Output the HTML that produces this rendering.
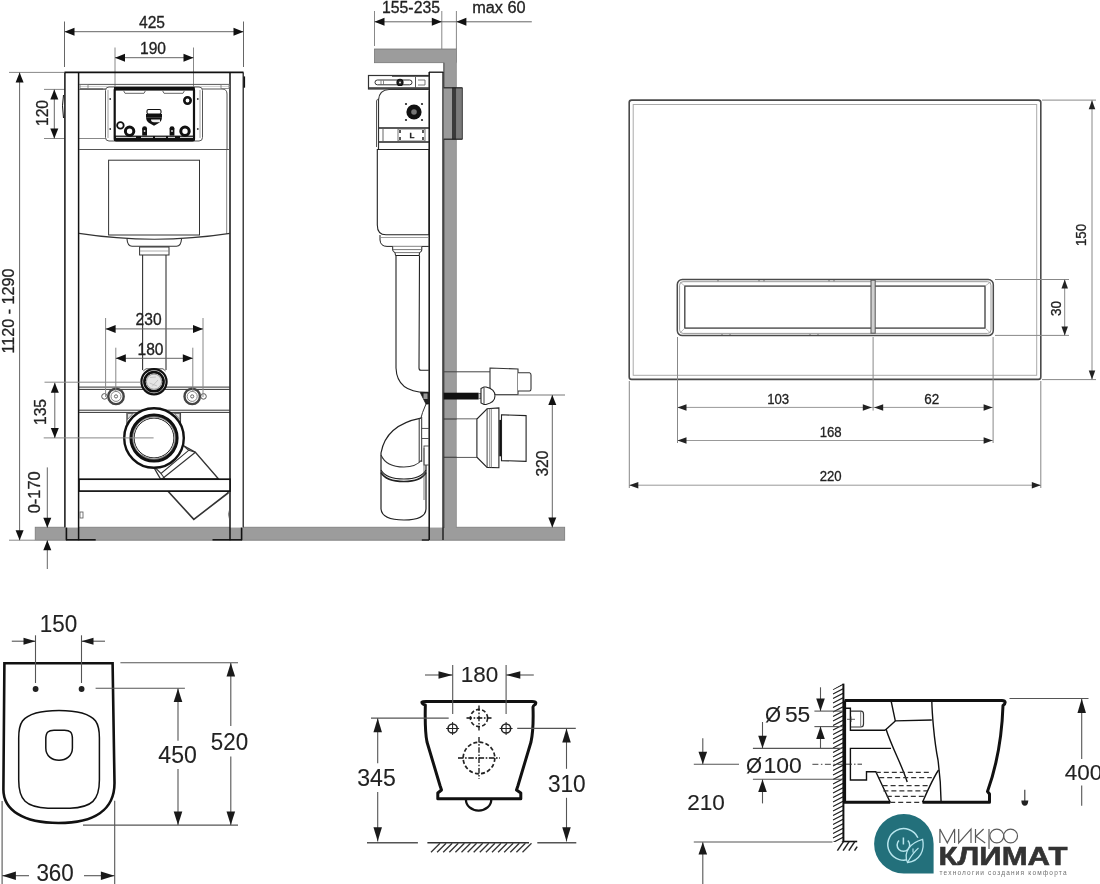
<!DOCTYPE html>
<html><head><meta charset="utf-8"><style>
html,body{margin:0;padding:0;background:#fff;width:1100px;height:884px;overflow:hidden}
svg{display:block;will-change:transform}
</style></head><body>
<svg width="1100" height="884" viewBox="0 0 1100 884" stroke-linecap="butt">
<rect x="0" y="0" width="1100" height="884" fill="#fff"/>
<rect x="35.3" y="527.3" width="529.3" height="12.9" rx="0" fill="#9c9c9c" stroke="#858585" stroke-width="1" />
<line x1="64.5" y1="21.5" x2="64.5" y2="67" stroke="#666" stroke-width="1" />
<line x1="243.5" y1="21.5" x2="243.5" y2="67" stroke="#666" stroke-width="1" />
<line x1="64.5" y1="31.7" x2="243.5" y2="31.7" stroke="#666" stroke-width="1" />
<polygon points="64.5,31.7 74.5,27.7 74.5,35.7" fill="#111" stroke="none" stroke-width="1" />
<polygon points="243.5,31.7 233.5,27.7 233.5,35.7" fill="#111" stroke="none" stroke-width="1" />
<text x="152" y="27.6" font-family='"Liberation Sans", sans-serif' font-size="16" text-anchor="middle" fill="#222" font-weight="normal" stroke="#222" stroke-width="0.3" textLength="26" lengthAdjust="spacingAndGlyphs" >425</text>
<line x1="115" y1="47.5" x2="115" y2="88" stroke="#888" stroke-width="1" />
<line x1="193.5" y1="47.5" x2="193.5" y2="88" stroke="#888" stroke-width="1" />
<line x1="115" y1="57.7" x2="193.5" y2="57.7" stroke="#666" stroke-width="1" />
<polygon points="115,57.7 125,53.7 125,61.7" fill="#111" stroke="none" stroke-width="1" />
<polygon points="193.5,57.7 183.5,53.7 183.5,61.7" fill="#111" stroke="none" stroke-width="1" />
<text x="153" y="54.3" font-family='"Liberation Sans", sans-serif' font-size="16" text-anchor="middle" fill="#222" font-weight="normal" stroke="#222" stroke-width="0.3" textLength="26" lengthAdjust="spacingAndGlyphs" >190</text>
<line x1="9" y1="72.4" x2="64.5" y2="72.4" stroke="#888" stroke-width="1" />
<line x1="9" y1="540.2" x2="35" y2="540.2" stroke="#888" stroke-width="1" />
<line x1="19.6" y1="72.4" x2="19.6" y2="540.2" stroke="#666" stroke-width="1" />
<polygon points="19.6,72.4 15.6,82.4 23.6,82.4" fill="#111" stroke="none" stroke-width="1" />
<polygon points="19.6,540.2 15.6,530.2 23.6,530.2" fill="#111" stroke="none" stroke-width="1" />
<text x="13.5" y="311" font-family='"Liberation Sans", sans-serif' font-size="16" text-anchor="middle" fill="#222" font-weight="normal" stroke="#222" stroke-width="0.3" transform="rotate(-90 13.5 311)" textLength="85" lengthAdjust="spacingAndGlyphs" >1120 - 1290</text>
<line x1="44" y1="89.4" x2="106" y2="89.4" stroke="#888" stroke-width="1" />
<line x1="44" y1="138.5" x2="106" y2="138.5" stroke="#888" stroke-width="1" />
<line x1="54.3" y1="89.4" x2="54.3" y2="138.5" stroke="#666" stroke-width="1" />
<polygon points="54.3,89.4 50.3,99.4 58.3,99.4" fill="#111" stroke="none" stroke-width="1" />
<polygon points="54.3,138.5 50.3,128.5 58.3,128.5" fill="#111" stroke="none" stroke-width="1" />
<text x="47.6" y="113" font-family='"Liberation Sans", sans-serif' font-size="16" text-anchor="middle" fill="#222" font-weight="normal" stroke="#222" stroke-width="0.3" transform="rotate(-90 47.6 113)" textLength="26" lengthAdjust="spacingAndGlyphs" >120</text>
<rect x="64.5" y="72.4" width="14.5" height="455.2" rx="0" fill="#fff" stroke="none" stroke-width="0" />
<rect x="230" y="72.4" width="13.5" height="455.2" rx="0" fill="#fff" stroke="none" stroke-width="0" />
<line x1="64.9" y1="72.4" x2="64.9" y2="527.6" stroke="#111" stroke-width="1.5" />
<line x1="78.6" y1="72.4" x2="78.6" y2="540.2" stroke="#111" stroke-width="1.5" />
<line x1="230" y1="72.4" x2="230" y2="540.2" stroke="#111" stroke-width="1.5" />
<line x1="243.2" y1="72.4" x2="243.2" y2="527.6" stroke="#111" stroke-width="1.2" />
<line x1="66.4" y1="527.6" x2="66.4" y2="540.2" stroke="#111" stroke-width="1.6" />
<line x1="241.6" y1="527.6" x2="241.6" y2="540.2" stroke="#111" stroke-width="1.6" />
<line x1="66" y1="539.8" x2="95.7" y2="539.8" stroke="#111" stroke-width="1.5" />
<line x1="212.5" y1="539.8" x2="242" y2="539.8" stroke="#111" stroke-width="1.5" />
<line x1="64.5" y1="72.4" x2="243.5" y2="72.4" stroke="#111" stroke-width="1.6" />
<line x1="79" y1="84.4" x2="230" y2="84.4" stroke="#555" stroke-width="1" />
<line x1="79" y1="86.4" x2="230" y2="86.4" stroke="#aaa" stroke-width="0.6" />
<path d="M63.5 95 Q61.5 105 63.5 118" fill="none" stroke="#111" stroke-width="1" />
<path d="M244.3 76.4 L244.3 87.7" fill="none" stroke="#111" stroke-width="1.6" />
<path d="M80 89 L222 89 Q227 89 227 94 L227 149.5" fill="none" stroke="#555" stroke-width="1" />
<line x1="226.7" y1="149.5" x2="226.7" y2="234" stroke="#666" stroke-width="0.8" />
<line x1="79" y1="149.5" x2="230" y2="149.5" stroke="#555" stroke-width="1" />
<line x1="80" y1="89" x2="103" y2="89" stroke="#555" stroke-width="1" />
<rect x="80" y="84.5" width="8" height="4" rx="0" fill="none" stroke="#777" stroke-width="0.8" />
<rect x="221" y="84.5" width="8" height="4" rx="0" fill="none" stroke="#777" stroke-width="0.8" />
<rect x="105.5" y="87" width="97" height="54" rx="3.5" fill="#fff" stroke="#555" stroke-width="1" />
<line x1="108" y1="90" x2="108" y2="138" stroke="#888" stroke-width="0.8" />
<line x1="200" y1="90" x2="200" y2="138" stroke="#888" stroke-width="0.8" />
<circle cx="110.2" cy="99" r="0.9" fill="#333" stroke="none" stroke-width="0" />
<circle cx="197.8" cy="99" r="0.9" fill="#333" stroke="none" stroke-width="0" />
<circle cx="110.2" cy="129" r="0.9" fill="#333" stroke="none" stroke-width="0" />
<circle cx="197.8" cy="129" r="0.9" fill="#333" stroke="none" stroke-width="0" />
<rect x="114.7" y="88.5" width="79.3" height="51.8" rx="1.5" fill="#fff" stroke="#111" stroke-width="2.2" />
<rect x="114" y="87" width="80.7" height="3.6" rx="0" fill="#111" stroke="none" stroke-width="0" />
<rect x="114" y="135.6" width="80.7" height="5.2" rx="0" fill="#111" stroke="none" stroke-width="0" />
<line x1="116" y1="137.4" x2="136" y2="137.4" stroke="#ccc" stroke-width="1.2" />
<line x1="141" y1="137.4" x2="153" y2="137.4" stroke="#ccc" stroke-width="1.2" />
<line x1="155" y1="137.4" x2="166" y2="137.4" stroke="#ccc" stroke-width="1.2" />
<line x1="168" y1="137.4" x2="175" y2="137.4" stroke="#ccc" stroke-width="1.2" />
<line x1="180" y1="137.4" x2="193" y2="137.4" stroke="#ccc" stroke-width="1.2" />
<path d="M123.5 90.6 L125 93.3 L144 93.3 L145.5 90.6" fill="none" stroke="#666" stroke-width="1" />
<path d="M162.5 90.6 L164 93.3 L183 93.3 L184.5 90.6" fill="none" stroke="#666" stroke-width="1" />
<circle cx="120.4" cy="125.4" r="3.3" fill="none" stroke="#111" stroke-width="1.8" />
<circle cx="129.6" cy="131.2" r="4.2" fill="none" stroke="#111" stroke-width="3" />
<circle cx="185" cy="131.2" r="4.2" fill="none" stroke="#111" stroke-width="3" />
<circle cx="187.5" cy="100.5" r="3.2" fill="none" stroke="#111" stroke-width="2.6" />
<circle cx="144.6" cy="128.6" r="2.4" fill="#111" stroke="none" stroke-width="0" />
<rect x="142.2" y="128.6" width="4.8" height="7" rx="0" fill="#111" stroke="none" stroke-width="0" />
<circle cx="172" cy="128.6" r="2.4" fill="#111" stroke="none" stroke-width="0" />
<rect x="169.6" y="128.6" width="4.8" height="7" rx="0" fill="#111" stroke="none" stroke-width="0" />
<circle cx="144.6" cy="131" r="0.9" fill="#ddd" stroke="none" stroke-width="0" />
<circle cx="172" cy="131" r="0.9" fill="#ddd" stroke="none" stroke-width="0" />
<rect x="147" y="109.5" width="14" height="4.5" rx="1.5" fill="#fff" stroke="#111" stroke-width="1.1" />
<rect x="146" y="114" width="16" height="3.6" rx="0" fill="#111" stroke="none" stroke-width="0" />
<path d="M146 117.5 Q146.5 122 150 123.5 L154 125.8 L158 123.5 Q161.5 122 162 117.5 Z" fill="#111" stroke="none" stroke-width="0" />
<path d="M151 119.5 Q151 122.3 154 122.3 L160 122.3 L160 119.5 Z" fill="#eee" stroke="none" stroke-width="0" />
<rect x="108.6" y="160.2" width="90.9" height="74.8" rx="0" fill="none" stroke="#333" stroke-width="1" />
<path d="M79 233.4 Q154.3 245 230 233.4" fill="none" stroke="#333" stroke-width="1.1" />
<path d="M127 239 Q127.5 246.3 132 246.3 L176.5 246.3 Q181 246.3 181.5 239" fill="none" stroke="#333" stroke-width="1.1" />
<rect x="139.6" y="247" width="29.4" height="8" rx="0" fill="none" stroke="#333" stroke-width="1" />
<line x1="140" y1="251" x2="168.6" y2="251" stroke="#777" stroke-width="0.6" />
<line x1="142.6" y1="255" x2="142.6" y2="370" stroke="#333" stroke-width="1.1" />
<line x1="166" y1="255" x2="166" y2="370" stroke="#333" stroke-width="1.1" />
<line x1="79" y1="387.1" x2="230" y2="387.1" stroke="#333" stroke-width="1" />
<line x1="79" y1="389.4" x2="230" y2="389.4" stroke="#333" stroke-width="1" />
<line x1="79" y1="410.2" x2="230" y2="410.2" stroke="#333" stroke-width="1" />
<line x1="79" y1="412.4" x2="230" y2="412.4" stroke="#333" stroke-width="1" />
<path d="M143.2 371 L146 368.8 L163 368.8 L165.6 371" fill="none" stroke="#444" stroke-width="0.9" />
<circle cx="154" cy="381.7" r="12.6" fill="#fff" stroke="#111" stroke-width="2.2" />
<circle cx="154" cy="381.7" r="9.6" fill="none" stroke="#111" stroke-width="2.6" />
<circle cx="154" cy="381.7" r="7.6" fill="#e6e6e6" stroke="#888" stroke-width="0.9" />
<path d="M150 377.5 L156 377 M149.5 383 L157 386 M152 386.5 L158 380" fill="none" stroke="#bbb" stroke-width="0.8" />
<circle cx="104.5" cy="396.4" r="2.8" fill="#fff" stroke="#555" stroke-width="1" />
<circle cx="116" cy="396.4" r="7.7" fill="#fff" stroke="#444" stroke-width="2.4" />
<circle cx="116" cy="396.4" r="5" fill="none" stroke="#777" stroke-width="0.9" />
<circle cx="116" cy="396.4" r="1.6" fill="none" stroke="#666" stroke-width="1" />
<circle cx="203.5" cy="396.4" r="2.8" fill="#fff" stroke="#555" stroke-width="1" />
<circle cx="192.2" cy="396.4" r="7.7" fill="#fff" stroke="#444" stroke-width="2.4" />
<circle cx="192.2" cy="396.4" r="5" fill="none" stroke="#777" stroke-width="0.9" />
<circle cx="192.2" cy="396.4" r="1.6" fill="none" stroke="#666" stroke-width="1" />
<path d="M126.9 424 L126.9 413 L180.5 413 L180.5 424" fill="#fff" stroke="#444" stroke-width="1.1" />
<polygon points="127.5,413.5 133,413.5 127.5,419.5" fill="#ddd" stroke="#555" stroke-width="0.8" />
<polygon points="179.9,413.5 174.4,413.5 179.9,419.5" fill="#ddd" stroke="#555" stroke-width="0.8" />
<polygon points="167.8,491 193.8,519.4 228,493 228,491" fill="#fff" stroke="#333" stroke-width="1.6" />
<polygon points="160.5,479 154.5,468.5 183.2,445.5 195.4,452.3 218.6,479" fill="#fff" stroke="#333" stroke-width="1.4" />
<polygon points="155.5,468 183.2,445.5 188.7,450.3 161,473.5" fill="#fff" stroke="#333" stroke-width="1.1" />
<line x1="161" y1="473.5" x2="165" y2="479" stroke="#333" stroke-width="1.1" />
<line x1="188.7" y1="450.3" x2="195.4" y2="452.3" stroke="#333" stroke-width="1.1" />
<line x1="162" y1="479" x2="195.4" y2="452.3" stroke="#333" stroke-width="1.1" />
<circle cx="154" cy="438" r="29.8" fill="#fff" stroke="#111" stroke-width="2.4" />
<circle cx="154" cy="438" r="22.8" fill="none" stroke="#111" stroke-width="3.6" />
<circle cx="154" cy="438" r="19.9" fill="none" stroke="#222" stroke-width="1" />
<circle cx="154" cy="438" r="21.3" fill="none" stroke="#aaa" stroke-width="0.6" />
<rect x="79" y="479.2" width="151" height="11.9" rx="0" fill="#fff" stroke="#111" stroke-width="1.7" />
<rect x="80" y="512" width="3" height="6" rx="0" fill="none" stroke="#555" stroke-width="0.8" />
<path d="M229.5 510 Q227.5 514 229.5 519" fill="none" stroke="#555" stroke-width="0.8" />
<line x1="105.6" y1="318" x2="105.6" y2="397" stroke="#888" stroke-width="1" />
<line x1="203" y1="318" x2="203" y2="397" stroke="#888" stroke-width="1" />
<line x1="105.6" y1="328.9" x2="203" y2="328.9" stroke="#666" stroke-width="1" />
<polygon points="105.6,328.9 115.6,324.9 115.6,332.9" fill="#111" stroke="none" stroke-width="1" />
<polygon points="203,328.9 193,324.9 193,332.9" fill="#111" stroke="none" stroke-width="1" />
<line x1="115.8" y1="347.7" x2="115.8" y2="392" stroke="#888" stroke-width="1" />
<line x1="192.8" y1="347.7" x2="192.8" y2="392" stroke="#888" stroke-width="1" />
<line x1="115.8" y1="358.3" x2="192.8" y2="358.3" stroke="#666" stroke-width="1" />
<polygon points="115.8,358.3 125.8,354.3 125.8,362.3" fill="#111" stroke="none" stroke-width="1" />
<polygon points="192.8,358.3 182.8,354.3 182.8,362.3" fill="#111" stroke="none" stroke-width="1" />
<text x="148.6" y="324.6" font-family='"Liberation Sans", sans-serif' font-size="16" text-anchor="middle" fill="#222" font-weight="normal" stroke="#222" stroke-width="0.3" textLength="26" lengthAdjust="spacingAndGlyphs" >230</text>
<text x="150.5" y="355.2" font-family='"Liberation Sans", sans-serif' font-size="16" text-anchor="middle" fill="#222" font-weight="normal" stroke="#222" stroke-width="0.3" textLength="26" lengthAdjust="spacingAndGlyphs" >180</text>
<line x1="44.5" y1="382.2" x2="141" y2="382.2" stroke="#888" stroke-width="1" />
<line x1="43.7" y1="437.9" x2="153.6" y2="437.9" stroke="#888" stroke-width="1" />
<line x1="54.8" y1="382.8" x2="54.8" y2="437.9" stroke="#666" stroke-width="1" />
<polygon points="54.8,382.8 50.8,392.8 58.8,392.8" fill="#111" stroke="none" stroke-width="1" />
<polygon points="54.8,437.9 50.8,427.9 58.8,427.9" fill="#111" stroke="none" stroke-width="1" />
<text x="46" y="412" font-family='"Liberation Sans", sans-serif' font-size="16" text-anchor="middle" fill="#222" font-weight="normal" stroke="#222" stroke-width="0.3" transform="rotate(-90 46 412)" textLength="26" lengthAdjust="spacingAndGlyphs" >135</text>
<line x1="47.3" y1="467.4" x2="47.3" y2="527.7" stroke="#666" stroke-width="1" />
<polygon points="47.3,527.7 43.3,517.7 51.3,517.7" fill="#111" stroke="none" stroke-width="1" />
<line x1="47.3" y1="540.2" x2="47.3" y2="569" stroke="#666" stroke-width="1" />
<polygon points="47.3,540.2 43.3,550.2 51.3,550.2" fill="#111" stroke="none" stroke-width="1" />
<text x="40" y="492.3" font-family='"Liberation Sans", sans-serif' font-size="16" text-anchor="middle" fill="#222" font-weight="normal" stroke="#222" stroke-width="0.3" transform="rotate(-90 40 492.3)" textLength="42" lengthAdjust="spacingAndGlyphs" >0-170</text>
<line x1="374.5" y1="11" x2="374.5" y2="46" stroke="#888" stroke-width="1" />
<line x1="441.8" y1="11" x2="441.8" y2="49" stroke="#888" stroke-width="1" />
<line x1="456.4" y1="11" x2="456.4" y2="49" stroke="#888" stroke-width="1" />
<line x1="374.5" y1="21.8" x2="531.8" y2="21.8" stroke="#666" stroke-width="1" />
<polygon points="374.5,21.8 384.5,17.8 384.5,25.8" fill="#111" stroke="none" stroke-width="1" />
<polygon points="441.8,21.8 431.8,17.8 431.8,25.8" fill="#111" stroke="none" stroke-width="1" />
<polygon points="456.4,21.8 466.4,17.8 466.4,25.8" fill="#111" stroke="none" stroke-width="1" />
<text x="411" y="13" font-family='"Liberation Sans", sans-serif' font-size="16" text-anchor="middle" fill="#222" font-weight="normal" stroke="#222" stroke-width="0.3" textLength="58" lengthAdjust="spacingAndGlyphs" >155-235</text>
<text x="498.9" y="13" font-family='"Liberation Sans", sans-serif' font-size="16" text-anchor="middle" fill="#222" font-weight="normal" stroke="#222" stroke-width="0.3" textLength="53.5" lengthAdjust="spacingAndGlyphs" >max 60</text>
<rect x="374.5" y="49" width="81.9" height="13.7" rx="0" fill="#9c9c9c" stroke="#777" stroke-width="0.8" />
<rect x="443.6" y="62" width="13" height="466" rx="0" fill="#9c9c9c" stroke="none" stroke-width="0" />
<line x1="443.9" y1="62.7" x2="443.9" y2="528" stroke="#444" stroke-width="1" />
<line x1="456.4" y1="62.7" x2="456.4" y2="528" stroke="#888" stroke-width="0.6" />
<rect x="429" y="72" width="14.3" height="455.6" rx="0" fill="#fff" stroke="none" stroke-width="0" />
<line x1="429.2" y1="72" x2="429.2" y2="540" stroke="#111" stroke-width="1.5" />
<line x1="443" y1="72" x2="443" y2="540" stroke="#111" stroke-width="1.3" />
<line x1="429" y1="72.2" x2="443.3" y2="72.2" stroke="#111" stroke-width="1.3" />
<line x1="421.8" y1="540" x2="429" y2="540" stroke="#111" stroke-width="1.3" />
<rect x="368.5" y="75.5" width="60.5" height="13.5" rx="0" fill="#fff" stroke="#333" stroke-width="1.2" />
<line x1="369" y1="88" x2="429" y2="88" stroke="#333" stroke-width="1.5" />
<line x1="392" y1="76" x2="429" y2="76" stroke="#333" stroke-width="1.5" />
<rect x="375" y="80" width="37" height="4.8" rx="2.4" fill="#fff" stroke="#333" stroke-width="1" />
<line x1="415.5" y1="77" x2="415.5" y2="88" stroke="#555" stroke-width="1" />
<path d="M418 80 L425 80 L425 85 L418 85" fill="none" stroke="#555" stroke-width="0.8" />
<circle cx="400" cy="82.4" r="3" fill="#222" stroke="#111" stroke-width="1.2" />
<circle cx="400" cy="82.4" r="1" fill="#ddd" stroke="none" stroke-width="0" />
<path d="M381 80.5 L381 84.5 M383.5 80.5 L383.5 84.5" fill="none" stroke="#555" stroke-width="0.7" />
<path d="M378.5 150 L378.5 100 Q379 90 389 89.5 L429 89.5" fill="#fff" stroke="#333" stroke-width="1.2" />
<path d="M376.5 147 L376.5 101 Q377 99 378.5 99" fill="none" stroke="#555" stroke-width="1" />
<circle cx="414" cy="112" r="7.6" fill="#111" stroke="none" stroke-width="0" />
<circle cx="414" cy="112" r="2.8" fill="#777" stroke="none" stroke-width="0" />
<circle cx="406" cy="104" r="1.1" fill="#222" stroke="none" stroke-width="0" />
<circle cx="406" cy="120" r="1.1" fill="#222" stroke="none" stroke-width="0" />
<circle cx="422" cy="104" r="1.1" fill="#222" stroke="none" stroke-width="0" />
<circle cx="422" cy="120" r="1.1" fill="#222" stroke="none" stroke-width="0" />
<line x1="379" y1="128" x2="429" y2="128" stroke="#222" stroke-width="1.3" />
<line x1="379" y1="142" x2="429" y2="142" stroke="#222" stroke-width="1.3" />
<line x1="383" y1="129" x2="383" y2="141" stroke="#666" stroke-width="1" />
<rect x="398" y="129" width="27" height="12" rx="0" fill="none" stroke="#555" stroke-width="0.8" />
<text x="412" y="137.5" font-family='"Liberation Sans", sans-serif' font-size="8" text-anchor="middle" fill="#222" font-weight="bold" stroke="#222" stroke-width="0.3" >L</text>
<path d="M400 130 L400 133 M400 137 L400 140 M423 130 L423 133 M423 137 L423 140" fill="none" stroke="#222" stroke-width="1.5" />
<line x1="376" y1="78" x2="376" y2="88" stroke="#fff" stroke-width="0" />
<rect x="443.6" y="87.5" width="18.9" height="52" rx="0" fill="#9a9a9a" stroke="none" stroke-width="0" />
<rect x="452" y="87.5" width="4.4" height="52" rx="0" fill="#3a3a3a" stroke="none" stroke-width="0" />
<rect x="456.4" y="88" width="6.1" height="51" rx="0" fill="#7a7a7a" stroke="none" stroke-width="0" />
<line x1="443.6" y1="87.8" x2="462.5" y2="87.8" stroke="#222" stroke-width="1.2" />
<line x1="443.6" y1="139.2" x2="462.5" y2="139.2" stroke="#222" stroke-width="1.2" />
<line x1="462.3" y1="88" x2="462.3" y2="139" stroke="#444" stroke-width="1" />
<path d="M377.3 149.5 L428.8 149.5 L428.8 234.8 L386 234.8 Q377.3 234.8 377.3 225 Z" fill="#fff" stroke="#222" stroke-width="1.1" />
<line x1="381" y1="237.5" x2="428.8" y2="237.5" stroke="#777" stroke-width="0.7" />
<path d="M380 235 L380 240 Q380.5 246.4 387 246.4 L428.8 246.4" fill="none" stroke="#222" stroke-width="1" />
<path d="M392.7 246.6 L392.7 250 Q393 252 395 252.5 L395.5 255.5 L419.2 255.5 L419.5 252.5 Q421.8 252 421.8 250 L421.8 246.6" fill="#fff" stroke="#222" stroke-width="1" />
<line x1="393" y1="249.6" x2="421.5" y2="249.6" stroke="#555" stroke-width="0.8" />
<line x1="395" y1="252.6" x2="419.5" y2="252.6" stroke="#555" stroke-width="0.8" />
<path d="M396 255.5 L396 368 Q397 392.3 426 392.3 L428.8 392.3" fill="none" stroke="#222" stroke-width="1.1" />
<path d="M419.5 255.5 L419 368 Q419 370.3 421 370.3 L428.8 370.3" fill="none" stroke="#222" stroke-width="1.1" />
<polygon points="420.3,392.6 428.6,392.6 428.6,404 426,404" fill="#222" stroke="#111" stroke-width="0.8" />
<rect x="423.5" y="393.5" width="4" height="5.5" rx="0" fill="#999" stroke="none" stroke-width="0" />
<path d="M426 404 L422.6 412.4 L420.9 418.2" fill="none" stroke="#333" stroke-width="1" />
<path d="M420.9 418.2 Q386 425 381 453 L381 509 Q382 520 404 520 Q425.5 520 426 509 L426 462" fill="#fff" stroke="#222" stroke-width="1.2" />
<path d="M381 455 Q386 467 404 467 Q416 467 421.7 460" fill="none" stroke="#333" stroke-width="1.1" />
<path d="M381 470 Q386 479 404 479 Q421 479 426 470" fill="none" stroke="#222" stroke-width="1.1" />
<path d="M381 472.5 Q386 481.5 404 481.5 Q421 481.5 426 472.5" fill="none" stroke="#222" stroke-width="1.6" />
<line x1="419.2" y1="418" x2="419.2" y2="462" stroke="#333" stroke-width="1" />
<line x1="421.7" y1="417" x2="421.7" y2="462" stroke="#333" stroke-width="1" />
<rect x="421.7" y="428.4" width="7.1" height="10.1" rx="0" fill="#fff" stroke="#444" stroke-width="0.9" />
<rect x="424" y="446" width="4.8" height="19" rx="0" fill="#fff" stroke="#444" stroke-width="0.9" />
<line x1="424" y1="448" x2="424" y2="500" stroke="#555" stroke-width="0.8" />
<line x1="443.6" y1="371.8" x2="490" y2="371.8" stroke="#444" stroke-width="1" />
<path d="M490 368 L518 369 L518 394.5 L490 394.5 Z" fill="#fff" stroke="#333" stroke-width="1.1" />
<path d="M518 372.7 L529.5 372.7 Q531 373 531 375 L531 389 Q531 391 529.5 391 L518 391" fill="#fff" stroke="#333" stroke-width="1.1" />
<rect x="443.6" y="392.7" width="35" height="6.8" rx="0" fill="#111" stroke="none" stroke-width="0" />
<rect x="478.6" y="393.5" width="2.4" height="5.2" rx="0" fill="#ccc" stroke="#555" stroke-width="0.7" />
<path d="M481 388.5 L484 387 L486 387 Q495 389 495 395.8 Q495 402.5 486 404.5 L484 404.5 L481 403 Z" fill="#fff" stroke="#222" stroke-width="1.1" />
<line x1="484" y1="387.5" x2="484" y2="404" stroke="#444" stroke-width="1" />
<line x1="443.6" y1="419" x2="476.9" y2="419" stroke="#333" stroke-width="1.1" />
<line x1="443.6" y1="457.2" x2="476.9" y2="457.2" stroke="#333" stroke-width="1.1" />
<rect x="456.8" y="419.5" width="20.1" height="37.2" rx="0" fill="#fff" stroke="none" stroke-width="0" />
<path d="M476.9 419 L476.9 457.2 L487.1 467.4 L498.9 467.8 L498.9 407.9 L487.1 408.8 Z" fill="#fff" stroke="#222" stroke-width="1.1" />
<line x1="487.1" y1="408.8" x2="487.1" y2="467.4" stroke="#444" stroke-width="1" />
<line x1="489.7" y1="408.6" x2="489.7" y2="467.5" stroke="#666" stroke-width="0.7" />
<line x1="491.4" y1="408.5" x2="491.4" y2="467.6" stroke="#666" stroke-width="0.7" />
<line x1="500.4" y1="419.9" x2="500.4" y2="456.3" stroke="#111" stroke-width="2.2" />
<path d="M501.5 414.8 L526.1 415.6 L526.1 461.4 L501.5 460.6 Z" fill="#fff" stroke="#222" stroke-width="1.1" />
<line x1="495.5" y1="395" x2="565" y2="395" stroke="#777" stroke-width="1" />
<line x1="552.3" y1="395" x2="552.3" y2="527.6" stroke="#666" stroke-width="1" />
<polygon points="552.3,395 548.3,405 556.3,405" fill="#111" stroke="none" stroke-width="1" />
<polygon points="552.3,527.6 548.3,517.6 556.3,517.6" fill="#111" stroke="none" stroke-width="1" />
<text x="548" y="463.6" font-family='"Liberation Sans", sans-serif' font-size="16" text-anchor="middle" fill="#222" font-weight="normal" stroke="#222" stroke-width="0.3" transform="rotate(-90 548 463.6)" textLength="26" lengthAdjust="spacingAndGlyphs" >320</text>
<rect x="629.2" y="100.1" width="411.6" height="279.3" rx="2.5" fill="#fff" stroke="#4a4a4a" stroke-width="1.6" />
<rect x="633.2" y="104.5" width="403.5" height="270.8" rx="0" fill="none" stroke="#aaa" stroke-width="1" />
<rect x="677.3" y="279.5" width="316" height="56.1" rx="5" fill="#fff" stroke="#4a4a4a" stroke-width="1.5" />
<rect x="679.6" y="281.7" width="311.4" height="51.7" rx="3.5" fill="none" stroke="#9a9a9a" stroke-width="1" />
<rect x="684.8" y="286.1" width="300.2" height="42" rx="0" fill="none" stroke="#4a4a4a" stroke-width="1.4" />
<path d="M680 282 L684.8 286.1 M990.6 282 L985 286.1 M680 333 L684.8 328.1 M990.6 333 L985 328.1" fill="none" stroke="#aaa" stroke-width="0.8" />
<rect x="871" y="280.2" width="4.2" height="53" rx="0" fill="#d0d0d0" stroke="#555" stroke-width="1" />
<line x1="718" y1="279.8" x2="718" y2="281.3" stroke="#555" stroke-width="0.8" />
<line x1="759" y1="279.8" x2="759" y2="281.3" stroke="#555" stroke-width="0.8" />
<line x1="764" y1="279.8" x2="764" y2="281.3" stroke="#555" stroke-width="0.8" />
<line x1="829" y1="279.8" x2="829" y2="281.3" stroke="#555" stroke-width="0.8" />
<line x1="834" y1="279.8" x2="834" y2="281.3" stroke="#555" stroke-width="0.8" />
<line x1="722" y1="334" x2="722" y2="335.2" stroke="#555" stroke-width="0.8" />
<line x1="730" y1="334" x2="730" y2="335.2" stroke="#555" stroke-width="0.8" />
<line x1="810" y1="334" x2="810" y2="335.2" stroke="#555" stroke-width="0.8" />
<line x1="818" y1="334" x2="818" y2="335.2" stroke="#555" stroke-width="0.8" />
<line x1="1042" y1="100.1" x2="1096" y2="100.1" stroke="#888" stroke-width="1" />
<line x1="1042" y1="379.6" x2="1096" y2="379.6" stroke="#888" stroke-width="1" />
<line x1="1092" y1="100.3" x2="1092" y2="379.4" stroke="#888" stroke-width="1" />
<polygon points="1092,100.3 1088.75,109.3 1095.25,109.3" fill="#222" stroke="none" stroke-width="1" />
<polygon points="1092,379.4 1088.75,370.4 1095.25,370.4" fill="#222" stroke="none" stroke-width="1" />
<text x="1086.3" y="235" font-family='"Liberation Sans", sans-serif' font-size="14" text-anchor="middle" fill="#222" font-weight="normal" stroke="#222" stroke-width="0.3" transform="rotate(-90 1086.3 235)" textLength="22" lengthAdjust="spacingAndGlyphs" >150</text>
<line x1="995" y1="279.5" x2="1069" y2="279.5" stroke="#888" stroke-width="1" />
<line x1="995" y1="335.4" x2="1069" y2="335.4" stroke="#888" stroke-width="1" />
<line x1="1064.7" y1="279.5" x2="1064.7" y2="335.4" stroke="#888" stroke-width="1" />
<polygon points="1064.7,279.5 1061.45,288.5 1067.95,288.5" fill="#222" stroke="none" stroke-width="1" />
<polygon points="1064.7,335.4 1061.45,326.4 1067.95,326.4" fill="#222" stroke="none" stroke-width="1" />
<text x="1060.6" y="308.5" font-family='"Liberation Sans", sans-serif' font-size="15" text-anchor="middle" fill="#222" font-weight="normal" stroke="#222" stroke-width="0.3" transform="rotate(-90 1060.6 308.5)" textLength="15" lengthAdjust="spacingAndGlyphs" >30</text>
<line x1="629.3" y1="381" x2="629.3" y2="488" stroke="#888" stroke-width="1" />
<line x1="1040.8" y1="381" x2="1040.8" y2="488" stroke="#888" stroke-width="1" />
<line x1="677.5" y1="337" x2="677.5" y2="443" stroke="#888" stroke-width="1" />
<line x1="873.1" y1="337" x2="873.1" y2="410.6" stroke="#888" stroke-width="1" />
<line x1="993.1" y1="337" x2="993.1" y2="443" stroke="#888" stroke-width="1" />
<line x1="677.5" y1="407.4" x2="993" y2="407.4" stroke="#999" stroke-width="1" />
<polygon points="677.5,407.4 686.5,404.15 686.5,410.65" fill="#222" stroke="none" stroke-width="1" />
<polygon points="871.8,407.4 862.8,404.15 862.8,410.65" fill="#222" stroke="none" stroke-width="1" />
<polygon points="874.2,407.4 883.2,404.15 883.2,410.65" fill="#222" stroke="none" stroke-width="1" />
<polygon points="992.6,407.4 983.6,404.15 983.6,410.65" fill="#222" stroke="none" stroke-width="1" />
<text x="778.2" y="404" font-family='"Liberation Sans", sans-serif' font-size="15" text-anchor="middle" fill="#222" font-weight="normal" stroke="#222" stroke-width="0.3" textLength="22" lengthAdjust="spacingAndGlyphs" >103</text>
<text x="931.7" y="404" font-family='"Liberation Sans", sans-serif' font-size="15" text-anchor="middle" fill="#222" font-weight="normal" stroke="#222" stroke-width="0.3" textLength="15" lengthAdjust="spacingAndGlyphs" >62</text>
<line x1="677.5" y1="440.5" x2="993" y2="440.5" stroke="#999" stroke-width="1" />
<polygon points="677.5,440.5 686.5,437.25 686.5,443.75" fill="#222" stroke="none" stroke-width="1" />
<polygon points="992.6,440.5 983.6,437.25 983.6,443.75" fill="#222" stroke="none" stroke-width="1" />
<text x="830.7" y="437" font-family='"Liberation Sans", sans-serif' font-size="15" text-anchor="middle" fill="#222" font-weight="normal" stroke="#222" stroke-width="0.3" textLength="22" lengthAdjust="spacingAndGlyphs" >168</text>
<line x1="629.3" y1="485.2" x2="1040.8" y2="485.2" stroke="#999" stroke-width="1" />
<polygon points="629.3,485.2 638.3,481.95 638.3,488.45" fill="#222" stroke="none" stroke-width="1" />
<polygon points="1040.8,485.2 1031.8,481.95 1031.8,488.45" fill="#222" stroke="none" stroke-width="1" />
<text x="830.7" y="480.5" font-family='"Liberation Sans", sans-serif' font-size="15" text-anchor="middle" fill="#222" font-weight="normal" stroke="#222" stroke-width="0.3" textLength="22" lengthAdjust="spacingAndGlyphs" >220</text>
<path d="M4.4 663.2 L112.6 663.2 L114.5 783 C114.5 810 94 823 58.5 823 C23 823 3.4 810 3.4 789.5 Z" fill="#fff" stroke="#111" stroke-width="2.6" />
<path d="M18.7 738 C18.7 722 23 717 36 713 C48 709.6 70 709.6 82 713 C95 717 99.4 722 99.4 738 L99.4 780 C99.4 800 92 807.5 70 808.2 L48 808.2 C26 807.5 18.7 800 18.7 780 Z" fill="none" stroke="#111" stroke-width="1.5" />
<path d="M45.8 739 C45.8 732 48.5 730.2 54 730.2 L64.5 730.2 C70 730.2 72.4 732 72.4 739 L72.4 748 C72.4 756 66 760.3 59 760.3 C52 760.3 45.8 756 45.8 748 Z" fill="none" stroke="#111" stroke-width="1.5" />
<circle cx="35.6" cy="689" r="2.9" fill="#222" stroke="none" stroke-width="0" />
<circle cx="81.6" cy="689" r="2.9" fill="#222" stroke="none" stroke-width="0" />
<line x1="35.5" y1="635.3" x2="35.5" y2="683" stroke="#555" stroke-width="1.1" />
<line x1="81.5" y1="635.3" x2="81.5" y2="683" stroke="#555" stroke-width="1.1" />
<line x1="11.8" y1="641.2" x2="35.5" y2="641.2" stroke="#555" stroke-width="1.1" />
<line x1="81.5" y1="641.2" x2="105" y2="641.2" stroke="#555" stroke-width="1.1" />
<polygon points="35.5,641.2 23.5,637.7 23.5,644.7" fill="#1a1a1a" stroke="none" stroke-width="1" />
<polygon points="81.5,641.2 93.5,637.7 93.5,644.7" fill="#1a1a1a" stroke="none" stroke-width="1" />
<text x="58.4" y="631.6" font-family='"Liberation Sans", sans-serif' font-size="23.5" text-anchor="middle" fill="#222" font-weight="normal" stroke="#222" stroke-width="0.1" textLength="37.5" lengthAdjust="spacingAndGlyphs" >150</text>
<line x1="120.4" y1="662.8" x2="238" y2="662.8" stroke="#555" stroke-width="1.1" />
<line x1="83" y1="825.1" x2="238" y2="825.1" stroke="#555" stroke-width="1.1" />
<line x1="230.8" y1="663" x2="230.8" y2="726" stroke="#555" stroke-width="1.1" />
<line x1="230.8" y1="756.5" x2="230.8" y2="825" stroke="#555" stroke-width="1.1" />
<polygon points="230.8,663 226.5,676.6 235.1,676.6" fill="#1a1a1a" stroke="none" stroke-width="1" />
<polygon points="230.8,825 226.5,811.4 235.1,811.4" fill="#1a1a1a" stroke="none" stroke-width="1" />
<text x="229.5" y="749.8" font-family='"Liberation Sans", sans-serif' font-size="23.5" text-anchor="middle" fill="#222" font-weight="normal" stroke="#222" stroke-width="0.1" textLength="37.3" lengthAdjust="spacingAndGlyphs" >520</text>
<line x1="95.6" y1="688.2" x2="184.9" y2="688.2" stroke="#555" stroke-width="1.1" />
<line x1="178" y1="688.4" x2="178" y2="740.7" stroke="#555" stroke-width="1.1" />
<line x1="178" y1="769" x2="178" y2="825" stroke="#555" stroke-width="1.1" />
<polygon points="178,688.4 173.7,702 182.3,702" fill="#1a1a1a" stroke="none" stroke-width="1" />
<polygon points="178,825 173.7,811.4 182.3,811.4" fill="#1a1a1a" stroke="none" stroke-width="1" />
<text x="177.6" y="763.3" font-family='"Liberation Sans", sans-serif' font-size="23.5" text-anchor="middle" fill="#222" font-weight="normal" stroke="#222" stroke-width="0.1" textLength="38.5" lengthAdjust="spacingAndGlyphs" >450</text>
<line x1="2.1" y1="801" x2="2.1" y2="884" stroke="#555" stroke-width="1.1" />
<line x1="114.7" y1="800.7" x2="114.7" y2="884" stroke="#555" stroke-width="1.1" />
<line x1="2.1" y1="875.7" x2="29" y2="875.7" stroke="#555" stroke-width="1.1" />
<line x1="84" y1="875.7" x2="114.7" y2="875.7" stroke="#555" stroke-width="1.1" />
<polygon points="2.3,875.7 15.9,871.4 15.9,880" fill="#1a1a1a" stroke="none" stroke-width="1" />
<polygon points="114.5,875.7 100.9,871.4 100.9,880" fill="#1a1a1a" stroke="none" stroke-width="1" />
<text x="55.1" y="881" font-family='"Liberation Sans", sans-serif' font-size="23.5" text-anchor="middle" fill="#222" font-weight="normal" stroke="#222" stroke-width="0.1" textLength="37.4" lengthAdjust="spacingAndGlyphs" >360</text>
<path d="M425.3 705 C423 704 421.5 703.5 422 702 C422.5 701.5 424 701.5 426 701.5 L532 701.5 C535 701.5 536.5 702 535.5 704 C535 705 533.5 705 533 707 C533.5 722 532.5 735 531 742 L518 785.5 L516.5 790 L520.8 793 L520.8 798.8 L437.8 798.8 L437.8 793 L441.5 790 L440 785.5 L427 742 C425.5 735 425 722 425.3 707 Z" fill="#fff" stroke="#111" stroke-width="3" stroke-linejoin="round"/>
<path d="M465.9 799.5 C466 806 471.5 810.6 478.6 810.6 C485.7 810.6 491.2 806 491.3 799.5" fill="none" stroke="#111" stroke-width="2.3" />
<circle cx="452.6" cy="728.5" r="4.6" fill="none" stroke="#222" stroke-width="1.5" />
<line x1="446.1" y1="728.5" x2="459.1" y2="728.5" stroke="#222" stroke-width="1" />
<line x1="452.6" y1="722" x2="452.6" y2="735" stroke="#222" stroke-width="1" />
<circle cx="506.1" cy="728.5" r="4.6" fill="none" stroke="#222" stroke-width="1.5" />
<line x1="499.6" y1="728.5" x2="512.6" y2="728.5" stroke="#222" stroke-width="1" />
<line x1="506.1" y1="722" x2="506.1" y2="735" stroke="#222" stroke-width="1" />
<circle cx="479" cy="718" r="8.6" fill="none" stroke="#222" stroke-width="1.6" stroke-dasharray="4 2.2"/>
<line x1="466.5" y1="718" x2="491.5" y2="718" stroke="#111" stroke-width="1.3" stroke-dasharray="5.5 1.6 1.6 1.6"/>
<line x1="479" y1="705.5" x2="479" y2="730.5" stroke="#111" stroke-width="1.3" stroke-dasharray="5.5 1.6 1.6 1.6"/>
<circle cx="479" cy="758" r="15.8" fill="none" stroke="#222" stroke-width="1.7" stroke-dasharray="4 2.2"/>
<line x1="458" y1="758" x2="500" y2="758" stroke="#111" stroke-width="1.3" stroke-dasharray="5.5 1.6 1.6 1.6"/>
<line x1="479" y1="737" x2="479" y2="779" stroke="#111" stroke-width="1.3" stroke-dasharray="5.5 1.6 1.6 1.6"/>
<line x1="452.7" y1="665" x2="452.7" y2="714" stroke="#555" stroke-width="1.1" />
<line x1="506.1" y1="665" x2="506.1" y2="714" stroke="#555" stroke-width="1.1" />
<line x1="425" y1="675" x2="452.7" y2="675" stroke="#555" stroke-width="1.1" />
<line x1="506.1" y1="675" x2="533.8" y2="675" stroke="#555" stroke-width="1.1" />
<polygon points="452.5,675 438.5,671.25 438.5,678.75" fill="#1a1a1a" stroke="none" stroke-width="1" />
<polygon points="506.3,675 520.3,671.25 520.3,678.75" fill="#1a1a1a" stroke="none" stroke-width="1" />
<text x="479.4" y="681.7" font-family='"Liberation Sans", sans-serif' font-size="22.5" text-anchor="middle" fill="#222" font-weight="normal" stroke="#222" stroke-width="0.1" textLength="37.5" lengthAdjust="spacingAndGlyphs" >180</text>
<line x1="371" y1="718.1" x2="448.7" y2="718.1" stroke="#555" stroke-width="1.1" />
<line x1="377.7" y1="718.3" x2="377.7" y2="763.2" stroke="#555" stroke-width="1.1" />
<line x1="377.7" y1="792" x2="377.7" y2="841.5" stroke="#555" stroke-width="1.1" />
<polygon points="377.7,718.3 373.45,732.3 381.95,732.3" fill="#1a1a1a" stroke="none" stroke-width="1" />
<polygon points="377.7,841.3 373.45,827.3 381.95,827.3" fill="#1a1a1a" stroke="none" stroke-width="1" />
<text x="376.5" y="786" font-family='"Liberation Sans", sans-serif' font-size="23" text-anchor="middle" fill="#222" font-weight="normal" stroke="#222" stroke-width="0.1" textLength="38.5" lengthAdjust="spacingAndGlyphs" >345</text>
<line x1="517.2" y1="728.4" x2="575.8" y2="728.4" stroke="#555" stroke-width="1.1" />
<line x1="566.5" y1="728.6" x2="566.5" y2="768.8" stroke="#555" stroke-width="1.1" />
<line x1="566.5" y1="797.8" x2="566.5" y2="841.5" stroke="#555" stroke-width="1.1" />
<polygon points="566.5,728.6 562.25,742.6 570.75,742.6" fill="#1a1a1a" stroke="none" stroke-width="1" />
<polygon points="566.5,841.3 562.25,827.3 570.75,827.3" fill="#1a1a1a" stroke="none" stroke-width="1" />
<text x="566.8" y="791.9" font-family='"Liberation Sans", sans-serif' font-size="23" text-anchor="middle" fill="#222" font-weight="normal" stroke="#222" stroke-width="0.1" textLength="37.8" lengthAdjust="spacingAndGlyphs" >310</text>
<line x1="367" y1="842.7" x2="417.9" y2="842.7" stroke="#555" stroke-width="1.4" />
<line x1="427.4" y1="842.7" x2="529" y2="842.7" stroke="#333" stroke-width="1.6" />
<line x1="537.3" y1="842.7" x2="576.3" y2="842.7" stroke="#555" stroke-width="1.4" />
<line x1="440" y1="843.2" x2="431" y2="852.2" stroke="#333" stroke-width="1.3" />
<line x1="446.1" y1="843.2" x2="437.1" y2="852.2" stroke="#333" stroke-width="1.3" />
<line x1="452.2" y1="843.2" x2="443.2" y2="852.2" stroke="#333" stroke-width="1.3" />
<line x1="458.3" y1="843.2" x2="449.3" y2="852.2" stroke="#333" stroke-width="1.3" />
<line x1="464.4" y1="843.2" x2="455.4" y2="852.2" stroke="#333" stroke-width="1.3" />
<line x1="470.5" y1="843.2" x2="461.5" y2="852.2" stroke="#333" stroke-width="1.3" />
<line x1="476.6" y1="843.2" x2="467.6" y2="852.2" stroke="#333" stroke-width="1.3" />
<line x1="482.7" y1="843.2" x2="473.7" y2="852.2" stroke="#333" stroke-width="1.3" />
<line x1="488.8" y1="843.2" x2="479.8" y2="852.2" stroke="#333" stroke-width="1.3" />
<line x1="494.9" y1="843.2" x2="485.9" y2="852.2" stroke="#333" stroke-width="1.3" />
<line x1="501" y1="843.2" x2="492" y2="852.2" stroke="#333" stroke-width="1.3" />
<line x1="507.1" y1="843.2" x2="498.1" y2="852.2" stroke="#333" stroke-width="1.3" />
<line x1="513.2" y1="843.2" x2="504.2" y2="852.2" stroke="#333" stroke-width="1.3" />
<line x1="519.3" y1="843.2" x2="510.3" y2="852.2" stroke="#333" stroke-width="1.3" />
<line x1="525.4" y1="843.2" x2="516.4" y2="852.2" stroke="#333" stroke-width="1.3" />
<line x1="531.5" y1="843.2" x2="522.5" y2="852.2" stroke="#333" stroke-width="1.3" />
<clipPath id="wc"><polygon points="832.5,689.5 843,683.6 843,842 832.5,842"/></clipPath>
<path d="M833 689.5 L843 684.2 M833 694 L843 688.7 M833 698.5 L843 693.2 M833 703 L843 697.7 M833 707.5 L843 702.2 M833 712 L843 706.7 M833 716.5 L843 711.2 M833 721 L843 715.7 M833 725.5 L843 720.2 M833 730 L843 724.7 M833 734.5 L843 729.2 M833 739 L843 733.7 M833 743.5 L843 738.2 M833 748 L843 742.7 M833 752.5 L843 747.2 M833 757 L843 751.7 M833 761.5 L843 756.2 M833 766 L843 760.7 M833 770.5 L843 765.2 M833 775 L843 769.7 M833 779.5 L843 774.2 M833 784 L843 778.7 M833 788.5 L843 783.2 M833 793 L843 787.7 M833 797.5 L843 792.2 M833 802 L843 796.7 M833 806.5 L843 801.2 M833 811 L843 805.7 M833 815.5 L843 810.2 M833 820 L843 814.7 M833 824.5 L843 819.2 M833 829 L843 823.7 M833 833.5 L843 828.2 M833 838 L843 832.7 M833 842.5 L843 837.2 M833 847 L843 841.7 " fill="none" stroke="#222" stroke-width="1.25" clip-path="url(#wc)"/>
<line x1="843.4" y1="683.6" x2="843.4" y2="842" stroke="#111" stroke-width="2" />
<line x1="843" y1="841.5" x2="857.2" y2="841.5" stroke="#111" stroke-width="1.6" />
<line x1="837.4" y1="850.7" x2="843.4" y2="841.7" stroke="#222" stroke-width="1.5" />
<line x1="843.1" y1="850.7" x2="849.1" y2="841.7" stroke="#222" stroke-width="1.5" />
<line x1="848.8" y1="850.7" x2="854.8" y2="841.7" stroke="#222" stroke-width="1.5" />
<line x1="854.5" y1="850.7" x2="857.2" y2="846.6" stroke="#222" stroke-width="1.5" />
<path d="M844.6 700.5 L1002 700.5 C1006 700.5 1006 703.5 1003 705.5 C1002 735 997 765 987.5 791.5 L989.5 794 L989.5 802.3 L922.5 802.3" fill="none" stroke="#111" stroke-width="3" stroke-linejoin="round"/>
<path d="M890.2 802.3 L844.6 802.3 L844.6 700.5" fill="none" stroke="#111" stroke-width="3" />
<path d="M891 700.5 L895.3 720.9 L931.8 720" fill="none" stroke="#111" stroke-width="1.4" />
<path d="M931.8 700.5 C932 712 934 740 938 760 C940 775 941 790 941.1 802" fill="none" stroke="#111" stroke-width="1.4" />
<path d="M885.1 730.2 L850.4 730.2 L850.4 708.2 L845 708.2" fill="none" stroke="#111" stroke-width="1.4" />
<path d="M885.1 730.2 L895.3 720.9" fill="none" stroke="#111" stroke-width="1.4" />
<path d="M886 729 C892 748 902 765 907.2 782" fill="none" stroke="#111" stroke-width="1.4" />
<path d="M850.8 711.1 L861 711.1 Q863.5 711.1 863.5 714 L863.5 724 Q863.5 727 861 727 L850.8 727" fill="none" stroke="#333" stroke-width="1.2" />
<line x1="860.7" y1="711.5" x2="860.7" y2="726.5" stroke="#555" stroke-width="0.8" />
<line x1="847" y1="719.3" x2="855" y2="719.3" stroke="#333" stroke-width="0.8" />
<line x1="851" y1="716.5" x2="851" y2="722" stroke="#333" stroke-width="0.8" />
<path d="M891 748.4 L850.4 748.4 L850.4 780 L866.5 780 L866.5 771.8 L875.8 771.8 L890.2 802.3" fill="none" stroke="#111" stroke-width="1.4" />
<path d="M922.5 802.3 C927 792 933 778 938.6 770" fill="none" stroke="#111" stroke-width="1.4" />
<line x1="875.8" y1="772.3" x2="931.8" y2="772.3" stroke="#333" stroke-width="1.3" stroke-dasharray="5 3"/>
<line x1="879.2" y1="777.7" x2="931.8" y2="777.7" stroke="#333" stroke-width="1.3" stroke-dasharray="5 3"/>
<line x1="882.6" y1="785.7" x2="929.3" y2="785.7" stroke="#333" stroke-width="1.3" stroke-dasharray="5 3"/>
<line x1="883.4" y1="790.8" x2="927" y2="790.8" stroke="#333" stroke-width="1.3" stroke-dasharray="5 3"/>
<line x1="886.8" y1="796.4" x2="925" y2="796.4" stroke="#333" stroke-width="1.3" stroke-dasharray="5 3"/>
<line x1="890.2" y1="802.3" x2="922" y2="802.3" stroke="#333" stroke-width="1.3" stroke-dasharray="5 3"/>
<line x1="846" y1="764.2" x2="862" y2="764.2" stroke="#333" stroke-width="1" stroke-dasharray="6 2 1.5 2"/>
<line x1="814.4" y1="711.1" x2="843" y2="711.1" stroke="#555" stroke-width="1.1" />
<line x1="814.4" y1="726.6" x2="843" y2="726.6" stroke="#555" stroke-width="1.1" />
<line x1="820.5" y1="687.3" x2="820.5" y2="711" stroke="#555" stroke-width="1.1" />
<polygon points="820.5,711 816.2,698.6 824.8,698.6" fill="#1a1a1a" stroke="none" stroke-width="1" />
<line x1="820.5" y1="726.6" x2="820.5" y2="748.4" stroke="#555" stroke-width="1.1" />
<polygon points="820.5,726.6 816.2,739 824.8,739" fill="#1a1a1a" stroke="none" stroke-width="1" />
<text x="765" y="721.9" font-family='"Liberation Sans", sans-serif' font-size="22" text-anchor="start" fill="#222" font-weight="normal" stroke="#222" stroke-width="0.1" textLength="16" lengthAdjust="spacingAndGlyphs" >Ø</text>
<text x="784.9" y="721.9" font-family='"Liberation Sans", sans-serif' font-size="22" text-anchor="start" fill="#222" font-weight="normal" stroke="#222" stroke-width="0.1" textLength="25.4" lengthAdjust="spacingAndGlyphs" >55</text>
<line x1="752.9" y1="748.4" x2="843" y2="748.4" stroke="#555" stroke-width="1.1" />
<line x1="752.9" y1="779.3" x2="843" y2="779.3" stroke="#555" stroke-width="1.1" />
<line x1="762.5" y1="722" x2="762.5" y2="748.4" stroke="#555" stroke-width="1.1" />
<polygon points="762.5,748.2 758.2,735.8 766.8,735.8" fill="#1a1a1a" stroke="none" stroke-width="1" />
<line x1="762.5" y1="779.3" x2="762.5" y2="803.4" stroke="#555" stroke-width="1.1" />
<polygon points="762.5,779.5 758.2,791.9 766.8,791.9" fill="#1a1a1a" stroke="none" stroke-width="1" />
<text x="746" y="772.8" font-family='"Liberation Sans", sans-serif' font-size="22" text-anchor="start" fill="#222" font-weight="normal" stroke="#222" stroke-width="0.1" textLength="16" lengthAdjust="spacingAndGlyphs" >Ø</text>
<text x="763.5" y="772.8" font-family='"Liberation Sans", sans-serif' font-size="22" text-anchor="start" fill="#222" font-weight="normal" stroke="#222" stroke-width="0.1" textLength="38.3" lengthAdjust="spacingAndGlyphs" >100</text>
<line x1="812.4" y1="764.3" x2="843" y2="764.3" stroke="#444" stroke-width="1" stroke-dasharray="6 2.5 1.5 2.5"/>
<line x1="693.8" y1="764.3" x2="739" y2="764.3" stroke="#555" stroke-width="1.1" />
<line x1="702.8" y1="738.2" x2="702.8" y2="764.3" stroke="#555" stroke-width="1.1" />
<polygon points="702.8,764.1 698.5,751.7 707.1,751.7" fill="#1a1a1a" stroke="none" stroke-width="1" />
<line x1="693.8" y1="842" x2="832.5" y2="842" stroke="#555" stroke-width="1.1" />
<line x1="702.8" y1="842.2" x2="702.8" y2="884" stroke="#555" stroke-width="1.1" />
<polygon points="702.8,842.2 698.5,854.6 707.1,854.6" fill="#1a1a1a" stroke="none" stroke-width="1" />
<text x="706" y="810.1" font-family='"Liberation Sans", sans-serif' font-size="22.5" text-anchor="middle" fill="#222" font-weight="normal" stroke="#222" stroke-width="0.1" textLength="37.7" lengthAdjust="spacingAndGlyphs" >210</text>
<line x1="1009.5" y1="698.5" x2="1088.5" y2="698.5" stroke="#555" stroke-width="1.1" />
<line x1="1081.7" y1="698.7" x2="1081.7" y2="759.1" stroke="#555" stroke-width="1.1" />
<line x1="1081.7" y1="785.4" x2="1081.7" y2="805.8" stroke="#555" stroke-width="1.1" />
<polygon points="1081.7,698.7 1077.45,713.1 1085.95,713.1" fill="#1a1a1a" stroke="none" stroke-width="1" />
<text x="1064.7" y="779.5" font-family='"Liberation Sans", sans-serif' font-size="22.5" text-anchor="start" fill="#222" font-weight="normal" stroke="#222" stroke-width="0.1" textLength="37.5" lengthAdjust="spacingAndGlyphs" >400</text>
<line x1="1024.8" y1="789.7" x2="1024.8" y2="801" stroke="#333" stroke-width="1.1" />
<path d="M1021.3 800.5 L1028.3 800.5 Q1028 805.8 1024.8 805.8 Q1021.6 805.8 1021.3 800.5 Z" fill="#222" stroke="none" stroke-width="0" />
<path d="M903.8 814.1 A29.7 29.7 0 0 0 874.1 843.8 A29.7 29.7 0 0 0 903.8 873.6 L933.6 873.6 L933.6 843.8 A29.7 29.7 0 0 0 903.8 814.1 Z" fill="#23707b" stroke="none" stroke-width="0" />
<path d="M911.5 858.1 A15.8 15.8 0 1 1 917.9 837.7" fill="none" stroke="#b8e6ee" stroke-width="1.5" />
<path d="M899 840.5 A6.3 6.3 0 1 0 907.8 840.5" fill="none" stroke="#b8e6ee" stroke-width="1.5" />
<line x1="903.4" y1="837.5" x2="903.4" y2="844.5" stroke="#b8e6ee" stroke-width="1.5" />
<path d="M907.5 862.5 C903 852 910 843 922.6 839.4 C925 850 920 861 907.5 862.5 Z" fill="#23707b" stroke="#b8e6ee" stroke-width="1.3" />
<path d="M907.5 862.5 C911 856 914 852 918.5 848 M913 852.5 L913 848.5" fill="none" stroke="#b8e6ee" stroke-width="1.1" />
<path d="M939.9 842.9 L939.9 829 L947.3 842.9 L954.6 829 L954.6 842.9" fill="none" stroke="#5a5a5a" stroke-width="1.2" stroke-linejoin="miter"/>
<path d="M958.7 829 L958.7 842.9 L971 829 L971 842.9" fill="none" stroke="#5a5a5a" stroke-width="1.2" />
<path d="M975.5 829 L975.5 842.9 M983.6 829 L976 836.3 L985.2 842.9" fill="none" stroke="#5a5a5a" stroke-width="1.2" />
<path d="M989 829 L989 849" fill="none" stroke="#5a5a5a" stroke-width="1.2" />
<circle cx="996.8" cy="836" r="6.9" fill="none" stroke="#5a5a5a" stroke-width="1.2" />
<circle cx="1010.6" cy="836" r="6.9" fill="none" stroke="#5a5a5a" stroke-width="1.2" />
<text x="938.5" y="864.8" font-family='"Liberation Sans", sans-serif' font-size="26" text-anchor="start" fill="#333" font-weight="bold" stroke="#333" stroke-width="0.6" textLength="129" lengthAdjust="spacingAndGlyphs" >КЛИМАТ</text>
<text x="939.5" y="875.2" font-family='"Liberation Sans", sans-serif' font-size="6.5" text-anchor="start" fill="#707070" font-weight="normal" textLength="127" lengthAdjust="spacing" >технологии создания комфорта</text>
</svg>
</body></html>
